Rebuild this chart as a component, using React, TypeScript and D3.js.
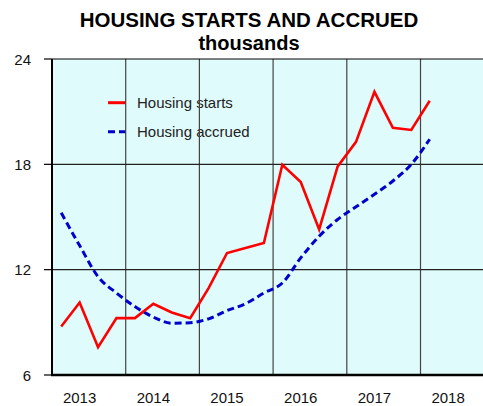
import React from "react";
import * as d3 from "d3";

// quarterly data, 2013 Q1 .. 2018 Q1
const quarters = [
  "2013Q1", "2013Q2", "2013Q3", "2013Q4",
  "2014Q1", "2014Q2", "2014Q3", "2014Q4",
  "2015Q1", "2015Q2", "2015Q3", "2015Q4",
  "2016Q1", "2016Q2", "2016Q3", "2016Q4",
  "2017Q1", "2017Q2", "2017Q3", "2017Q4",
  "2018Q1",
];
const housingStarts = [
  8.76, 10.13, 7.58, 9.24,
  9.24, 10.06, 9.56, 9.24,
  10.95, 12.95, 13.24, 13.52,
  17.98, 16.99, 14.29, 17.87,
  19.28, 22.13, 20.08, 19.96,
  21.62,
];
const housingAccrued = [
  15.24, 13.37, 11.6, 10.67,
  9.9, 9.3, 8.95, 8.98,
  9.2, 9.67, 10.06, 10.67,
  11.24, 12.67, 13.9, 14.86,
  15.58, 16.29, 17.05, 18.0,
  19.43,
];
const yearLabels = ["2013", "2014", "2015", "2016", "2017", "2018"];
const yTicks = [6, 12, 18, 24];

const W = 483;
const H = 406;
const FONT = "'Liberation Sans', Arial, sans-serif";

const toX = (q: string) => {
  const yr = +q.slice(0, 4);
  const n = +q.slice(5);
  return yr + (n - 0.5) / 4;
};

export default function App() {
  const x = d3.scaleLinear().domain([2013, 2019]).range([52, 494.2]);
  const y = d3.scaleLinear().domain([6, 24]).range([375, 59]);

  const line = d3
    .line<number>()
    .x((_, i) => x(toX(quarters[i])))
    .y((d) => y(d));
  const smooth = d3
    .line<number>()
    .x((_, i) => x(toX(quarters[i])))
    .y((d) => y(d))
    .curve(d3.curveMonotoneX);

  return (
    <svg
      width={W}
      height={H}
      style={{ position: "absolute", left: 0, top: 0, fontFamily: FONT }}
    >
      <rect x={0} y={0} width={W} height={H} fill="#fff" />
      <text x={249} y={27} textAnchor="middle" fontSize={20.5} fontWeight="bold">
        HOUSING STARTS AND ACCRUED
      </text>
      <text x={249} y={50} textAnchor="middle" fontSize={20} fontWeight="bold">
        thousands
      </text>

      <rect
        x={x(2013)}
        y={y(24)}
        width={x(2019) - x(2013)}
        height={y(6) - y(24)}
        fill="#e0fbfb"
      />

      {/* legend */}
      <line x1={108} x2={126} y1={102.7} y2={102.7} stroke="#ff0000" strokeWidth={3} />
      <text x={137} y={108} fontSize={15} fill="#222">Housing starts</text>
      <line x1={108} x2={126} y1={131.7} y2={131.7} stroke="#0000cc" strokeWidth={3} strokeDasharray="7,4" />
      <text x={137} y={137} fontSize={15} fill="#222">Housing accrued</text>

      {/* grid */}
      {d3.range(2014, 2019).map((yr) => (
        <line key={yr} x1={x(yr)} x2={x(yr)} y1={y(24)} y2={y(6)} stroke="#444" strokeWidth={1.2} />
      ))}
      {yTicks.slice(1, 3).map((t) => (
        <line key={t} x1={x(2013)} x2={x(2019)} y1={y(t)} y2={y(t)} stroke="#222" strokeWidth={1.2} />
      ))}
      <line x1={x(2013)} x2={x(2019)} y1={y(24)} y2={y(24)} stroke="#000" strokeWidth={1.2} />

      {/* series */}
      <path d={smooth(housingAccrued) ?? ""} fill="none" stroke="#0000cc" strokeWidth={3} strokeDasharray="7,4" />
      <path d={line(housingStarts) ?? ""} fill="none" stroke="#ff0000" strokeWidth={2.6} strokeLinejoin="miter" />

      {/* axes */}
      <line x1={x(2013)} x2={x(2013)} y1={y(24)} y2={y(6)} stroke="#000" strokeWidth={2} />
      <line x1={x(2013) - 1} x2={x(2019)} y1={y(6)} y2={y(6)} stroke="#000" strokeWidth={2.5} />
      {yTicks.map((t) => (
        <g key={t}>
          <line x1={44} x2={x(2013)} y1={y(t)} y2={y(t)} stroke="#000" strokeWidth={1.2} />
          <text x={31} y={y(t) + 5.5} textAnchor="end" fontSize={15} fill="#111">
            {t}
          </text>
        </g>
      ))}
      {yearLabels.map((yl) => (
        <text key={yl} x={x(+yl + 0.375)} y={403} textAnchor="middle" fontSize={15} fill="#111">
          {yl}
        </text>
      ))}
    </svg>
  );
}
